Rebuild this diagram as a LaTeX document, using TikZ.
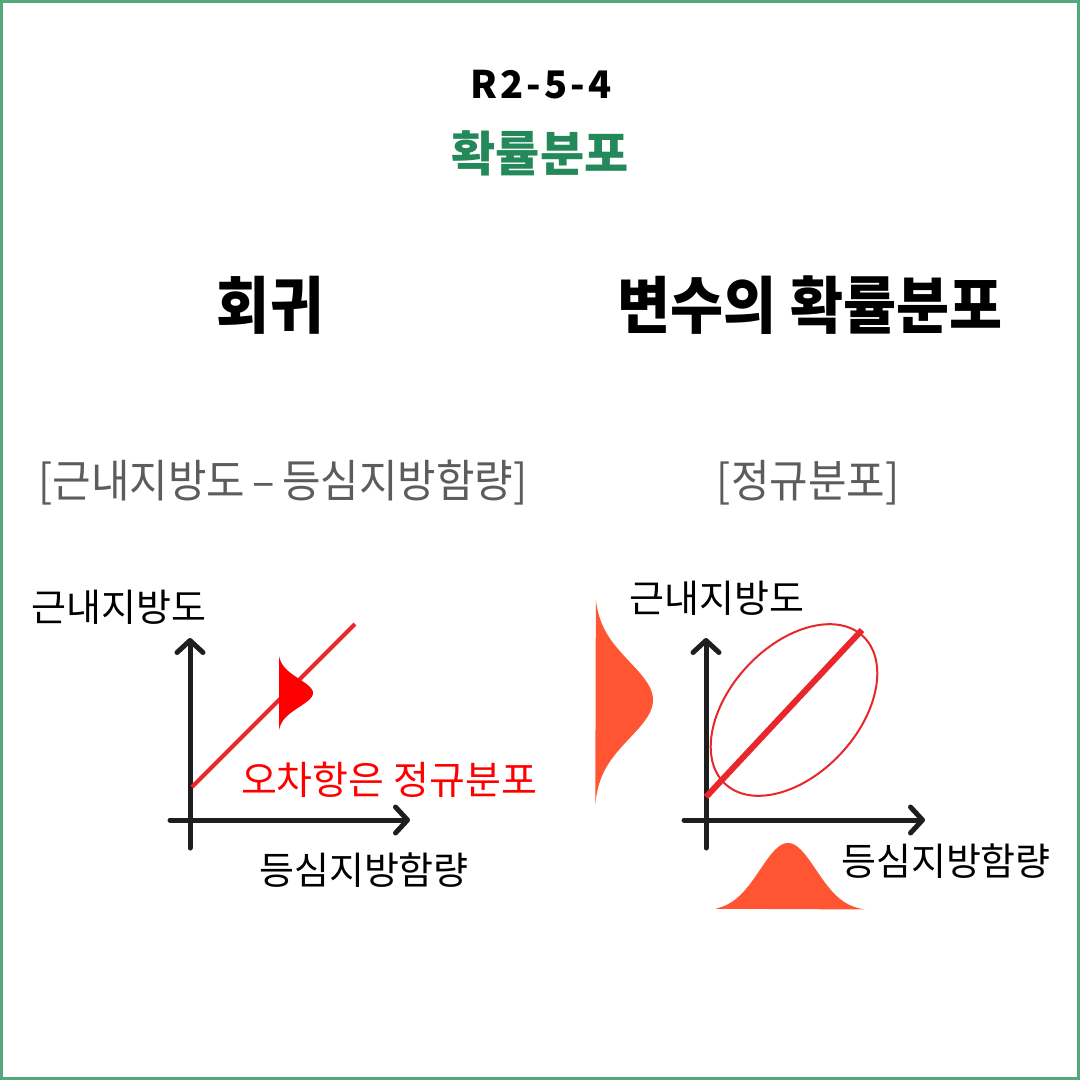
\documentclass[tikz,border=0pt]{standalone}
\usepackage{fontspec}
\usepackage{xcolor}
\usetikzlibrary{arrows.meta}
\setmainfont{Noto Sans CJK KR}
\newfontfamily\headfont{Noto Sans CJK KR}[FakeStretch=0.93]
\newfontfamily\codefont{Noto Sans CJK KR}[LetterSpace=8]
\definecolor{frameGreen}{HTML}{56A87A}
\definecolor{titleGreen}{HTML}{23895A}
\definecolor{capGray}{HTML}{5C5C5C}
\definecolor{axisBlack}{HTML}{1E1E1E}
\definecolor{fitRed}{HTML}{E8262B}
\definecolor{errRed}{HTML}{FF0000}
\definecolor{bellOrange}{HTML}{FF5533}

\begin{document}
\begin{tikzpicture}[x=1pt, y=-1pt,
	txt/.style={inner sep=0pt, anchor=center},
	headline/.style={txt, font=\headfont\bfseries\fontsize{62}{70}\selectfont},
	caption/.style={txt, text=capGray, font=\headfont\fontsize{45}{52}\selectfont},
	axislabel/.style={txt, font=\fontsize{38}{44}\selectfont},
	axis/.style={line width=5pt, axisBlack, line cap=round,
		-{Straight Barb[length=12pt, width=26pt, round]}},
	fitline/.style={line width=4pt, fitRed},
	bell/.style={fill=bellOrange}]
	% page and frame
	\useasboundingbox (0,0) rectangle (1080,1080);
	\fill[white] (0,0) rectangle (1080,1080);
	\draw[frameGreen, line width=3pt] (1.5,1.5) rectangle (1078.5,1078.5);
	
	% titles
	\node[txt, font=\codefont\bfseries\fontsize{38}{44}\selectfont] (code) at (541,85) {R2-5-4};
	\node[txt, text=titleGreen, font=\bfseries\fontsize{48}{54}\selectfont] (topic) at (540,153) {확률분포};
	\node[headline] (regr) at (270,305) {회귀};
	\node[headline] (dist) at (810,305) {변수의 확률분포};
	\node[caption] (capA) at (283,483) {[근내지방도\,–\,등심지방함량]};
	\node[caption] (capB) at (808,483) {[정규분포]};
	
	% left chart: regression
	\coordinate (oA) at (190,848);
	\coordinate (yA) at (190,638);
	\coordinate (xoA) at (170,820);
	\coordinate (xA) at (410,820);
	\draw[axis] (oA) -- (yA);
	\draw[axis] (xoA) -- (xA);
	\coordinate (fitA1) at (192,787);
	\coordinate (fitA2) at (355,624);
	\draw[fitline] (fitA1) -- (fitA2);
	% error term
	\fill[errRed] plot[domain=-37:37, samples=60] ({278+35*exp(-\x*\x/392)}, {693+\x}) -- cycle;
	\node[axislabel] (ylabA) at (119,607) {근내지방도};
	\node[axislabel] (xlabA) at (364,870) {등심지방함량};
	\node[axislabel, text=errRed, font=\fontsize{39}{44}\selectfont] (errA) at (389,780) {오차항은 정규분포};
	
	% right chart: joint distribution
	\coordinate (oB) at (706,848);
	\coordinate (yB) at (706,638);
	\coordinate (xoB) at (684,820);
	\coordinate (xB) at (925,820);
	\draw[axis] (oB) -- (yB);
	\draw[axis] (xoB) -- (xB);
	\draw[fitRed, line width=2pt] (794,710) ellipse [x radius=101, y radius=64, rotate=47];
	\coordinate (fitB1) at (706,797);
	\coordinate (fitB2) at (862,630);
	\draw[fitline, line width=6pt] (fitB1) -- (fitB2);
	% marginal densities
	\fill[bell] plot[domain=-100:105, samples=80] ({594+59*exp(-\x*\x/2888)}, {700+\x}) -- cycle;
	\fill[bell] plot[domain=-73:77, samples=80] ({788+\x}, {911-68*exp(-\x*\x/1568)}) -- cycle;
	\node[axislabel] (ylabB) at (717,598) {근내지방도};
	\node[axislabel] (xlabB) at (946,861) {등심지방함량};
\end{tikzpicture}
\end{document}
